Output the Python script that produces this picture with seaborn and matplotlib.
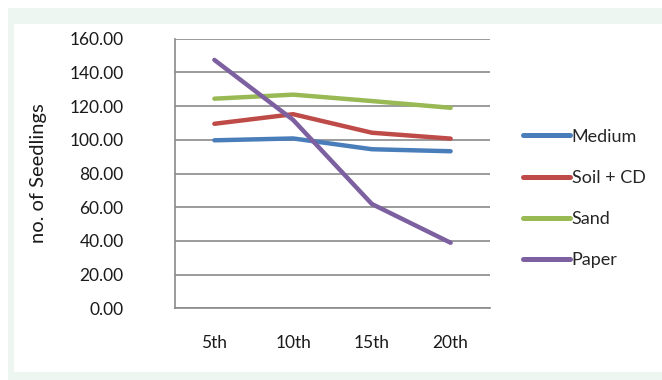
import matplotlib
matplotlib.use("Agg")
import matplotlib.pyplot as plt
import matplotlib.patches as mpatches
import pandas as pd
import seaborn as sns

days = ["5th", "10th", "15th", "20th"]
medium = [99.7, 100.8, 94.4, 93.2]
soil_cd = [109.5, 115.2, 104.2, 100.7]
sand = [124.4, 126.8, 123.0, 119.0]
paper = [147.4, 111.8, 61.9, 38.9]
series_names = ["Medium", "Soil + CD", "Sand", "Paper"]
y_ticks = [0, 20, 40, 60, 80, 100, 120, 140, 160]

colors = ["#4a7ebb", "#be4b48", "#98b954", "#7d60a0"]

rows = []
for name, vals in zip(series_names, [medium, soil_cd, sand, paper]):
    for d, v in zip(days, vals):
        rows.append({"day": d, "value": v, "series": name})
df = pd.DataFrame(rows)

sns.set_theme(style="white")
plt.rcParams["font.family"] = ["Lato", "DejaVu Sans"]

fig = plt.figure(figsize=(6.62, 3.80), dpi=100)
fig.patch.set_facecolor("white")
# framed panel behind the chart
fig.patches.append(mpatches.Rectangle((8 / 662, 0), 1, 1 - 8 / 380,
                                      transform=fig.transFigure,
                                      facecolor="#eef6f2", edgecolor="none", zorder=-2))
fig.patches.append(mpatches.Rectangle((14 / 662, 8 / 380), 1, 1 - 32 / 380,
                                      transform=fig.transFigure,
                                      facecolor="white", edgecolor="none", zorder=-1))

ax = fig.add_axes([175 / 662, 1 - 308.3 / 380, (490 - 175) / 662, (308.3 - 38.7) / 380])
ax.set_facecolor("none")

sns.lineplot(data=df, x="day", y="value", hue="series", palette=colors,
             sort=False, linewidth=3.2, ax=ax, legend=True)

ax.set_xlim(-0.5, 3.5)
ax.set_ylim(0, 160)
ax.set_yticks(y_ticks)
ax.set_yticklabels([f"{t:.2f}" for t in y_ticks])
ax.yaxis.grid(True, color="#8a8a8a", linewidth=1.2)
ax.set_axisbelow(True)
for side in ["top", "right"]:
    ax.spines[side].set_visible(False)
for side in ["left", "bottom"]:
    ax.spines[side].set_color("#8a8a8a")
    ax.spines[side].set_linewidth(1.2)
ax.tick_params(axis="y", length=0, pad=37, labelsize=12.5, labelcolor="#1a1a1a")
ax.tick_params(axis="x", length=0, pad=19, labelsize=12.5, labelcolor="#1a1a1a")
ax.set_xlabel("")
ax.set_ylabel("no. of Seedlings", fontsize=14.5, color="#1a1a1a")
ax.yaxis.set_label_coords(-0.405, 0.5)

leg = ax.legend(loc="center left", bbox_to_anchor=(523 / 662, 1 - 198.5 / 380),
                bbox_transform=fig.transFigure, frameon=False, fontsize=13,
                handlelength=2.6, handletextpad=0.1, labelspacing=1.4,
                borderaxespad=0, borderpad=0)
for line in leg.get_lines():
    line.set_linewidth(3.6)

fig.savefig("out.png", dpi=100)
